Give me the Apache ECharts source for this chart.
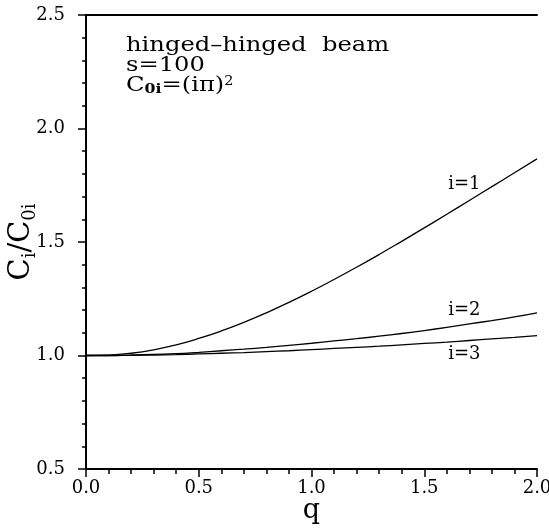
<!DOCTYPE html>
<html>
<head>
    <meta charset="utf-8">
    <title>hinged-hinged beam</title>
    <script src="https://cdn.jsdelivr.net/npm/echarts@6/dist/echarts.min.js"></script>
</head>
<body style="margin:0;background:#fff">
    <div id="main" style="width:549px;height:529px;"></div>
    <script type="text/javascript">
        // q values and C_i/C_0i
        var qValues = [0, 0.1, 0.2, 0.3, 0.4, 0.5, 0.6, 0.7, 0.8, 0.9, 1.0,
                       1.1, 1.2, 1.3, 1.4, 1.5, 1.6, 1.7, 1.8, 1.9, 2.0];
        var mode1 = [1.000, 1.002, 1.010, 1.025, 1.047, 1.075, 1.108, 1.146, 1.188, 1.234, 1.283,
                     1.335, 1.389, 1.445, 1.503, 1.562, 1.622, 1.683, 1.744, 1.805, 1.866];
        var mode2 = [1.000, 1.000, 1.002, 1.005, 1.008, 1.014, 1.021, 1.028, 1.036, 1.045, 1.054,
                     1.064, 1.074, 1.085, 1.097, 1.110, 1.124, 1.139, 1.154, 1.170, 1.188];
        var mode3 = [1.000, 1.000, 1.001, 1.002, 1.004, 1.007, 1.010, 1.013, 1.017, 1.021, 1.026,
                     1.031, 1.036, 1.041, 1.047, 1.053, 1.059, 1.066, 1.073, 1.080, 1.088];
        // curve labels: text and where they sit (data coords)
        var curveLabels = [
            { text: 'i=1', at: [1.678, 1.756] },
            { text: 'i=2', at: [1.678, 1.200] },
            { text: 'i=3', at: [1.678, 1.006] }
        ];

        var font = 'DejaVu Serif';
        function pairs(ys) {
            return qValues.map(function (q, k) { return [q, ys[k]]; });
        }
        function curve(name, ys) {
            return {
                name: name,
                type: 'line',
                data: pairs(ys),
                smooth: true,
                symbol: 'none',
                lineStyle: { color: '#000', width: 1.3 },
                xAxisIndex: 0,
                yAxisIndex: 0
            };
        }

        var myChart = echarts.init(document.getElementById('main'));
        var axisLineStyle = { lineStyle: { color: '#000', width: 2 } };

        var option = {
            animation: false,
            backgroundColor: '#fff',
            grid: { left: 86, right: 12, top: 15, bottom: 60, containLabel: false, outerBoundsMode: 'none' },
            xAxis: [{
                type: 'value',
                min: 0,
                max: 2,
                interval: 0.5,
                name: 'q',
                nameLocation: 'middle',
                nameGap: 28,
                nameMoveOverlap: false,
                nameTextStyle: { fontFamily: font, fontSize: 27, color: '#000' },
                axisLine: axisLineStyle,
                axisTick: { length: 8, lineStyle: { color: '#000', width: 1.5 } },
                minorTick: { show: true, splitNumber: 5, length: 5, lineStyle: { color: '#000', width: 1.5 } },
                splitLine: { show: false },
                axisLabel: {
                    margin: 10,
                    fontFamily: font,
                    fontSize: 18,
                    color: '#000',
                    formatter: function (v) { return v.toFixed(1); }
                }
            }, {
                type: 'value',
                position: 'top',
                min: 0,
                max: 2,
                axisLine: axisLineStyle,
                axisTick: { show: false },
                axisLabel: { show: false },
                splitLine: { show: false }
            }],
            yAxis: [{
                type: 'value',
                min: 0.5,
                max: 2.5,
                interval: 0.5,
                name: 'C{s|i}/C{s|0i}',
                nameLocation: 'middle',
                nameGap: 47,
                nameMoveOverlap: false,
                nameTextStyle: {
                    fontFamily: font,
                    fontSize: 29,
                    color: '#000',
                    lineHeight: 36,
                    rich: {
                        s: { fontFamily: font, fontSize: 18, color: '#000', lineHeight: 16, verticalAlign: 'bottom' }
                    }
                },
                axisLine: axisLineStyle,
                axisTick: { length: 8, lineStyle: { color: '#000', width: 1.5 } },
                minorTick: { show: true, splitNumber: 5, length: 4, lineStyle: { color: '#000', width: 1.5 } },
                splitLine: { show: false },
                axisLabel: {
                    margin: 21,
                    fontFamily: font,
                    fontSize: 18,
                    color: '#000',
                    formatter: function (v) { return v.toFixed(1); }
                }
            }, {
                type: 'value',
                position: 'right',
                min: 0.5,
                max: 2.5,
                axisLine: axisLineStyle,
                axisTick: { show: false },
                axisLabel: { show: false },
                splitLine: { show: false }
            }],
            series: [curve('i=1', mode1), curve('i=2', mode2), curve('i=3', mode3)]
        };

        myChart.setOption(option);

        // annotation block plus curve labels placed at their data positions
        var graphics = [{
            type: 'text',
            x: 126,
            y: 36,
            scaleX: 1.21,
            style: {
                text: 'hinged\u2013hinged  beam\ns=100\nC{s|0i}=(i\u03c0){p|2}',
                font: '20px "DejaVu Serif"',
                fill: '#000',
                lineHeight: 20,
                rich: {
                    s: { font: 'bold 13px "DejaVu Serif"', fill: '#000', lineHeight: 20, verticalAlign: 'bottom' },
                    p: { font: '12px "DejaVu Serif"', fill: '#000', lineHeight: 20, verticalAlign: 'top' }
                }
            }
        }];
        curveLabels.forEach(function (lab) {
            var p = myChart.convertToPixel({ gridIndex: 0 }, lab.at);
            graphics.push({
                type: 'text',
                x: p[0],
                y: p[1],
                style: {
                    text: lab.text,
                    font: '18px "DejaVu Serif"',
                    fill: '#000',
                    align: 'center',
                    verticalAlign: 'middle'
                }
            });
        });
        myChart.setOption({ graphic: graphics });
    </script>
</body>
</html>
